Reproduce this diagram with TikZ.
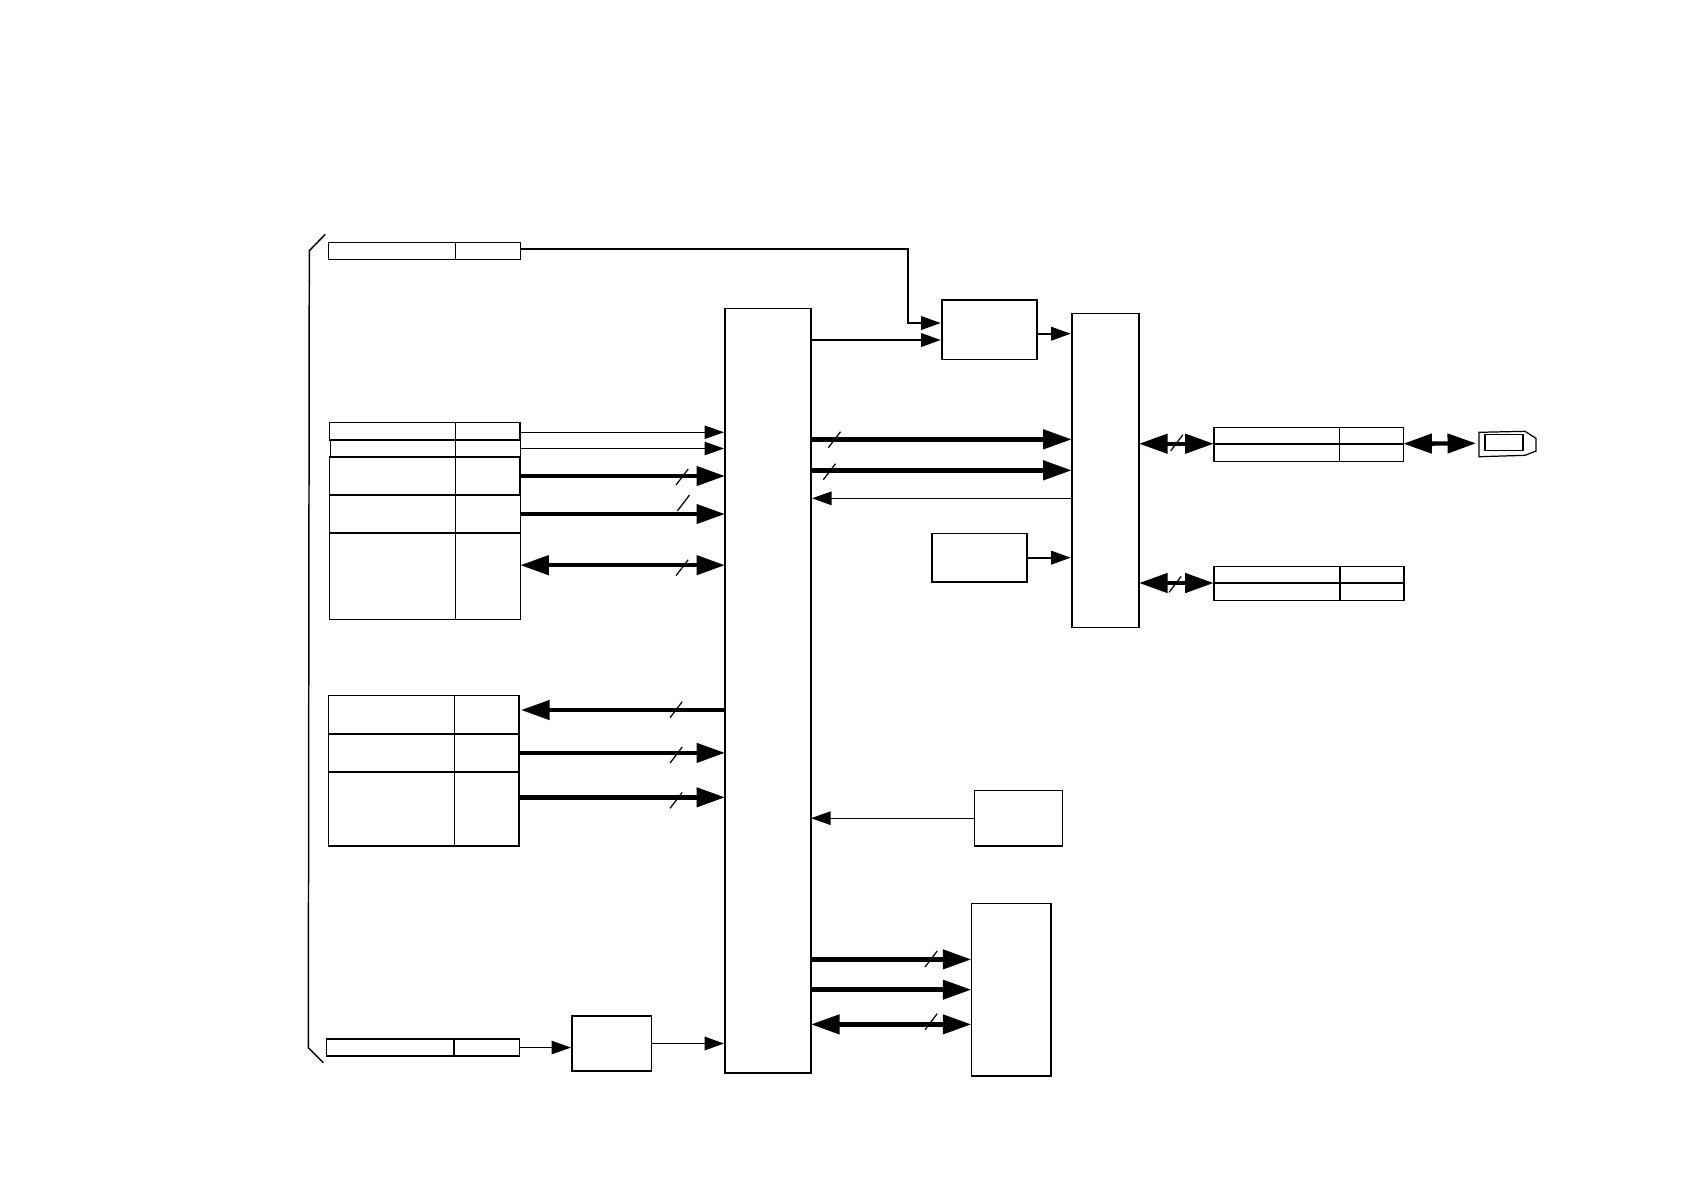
\documentclass[tikz,border=0pt]{standalone}
\usepackage{amsmath,amssymb,amsthm}
\usetikzlibrary{arrows.meta}
\tikzset{
  block/.style={draw, line width=0.45pt, inner sep=0pt, outer sep=0pt, anchor=north west},
  cell/.style={block},
  wire/.style={line width=0.55pt, shorten >=0.1mm, -{Triangle[length=1.95mm,width=1.35mm]}},
  thinwire/.style={wire, line width=0.3pt},
  bus/.style={line width=1.25pt, -{Triangle[length=2.85mm,width=1.9mm]}},
  dualbus/.style={line width=1.25pt, {Triangle[length=2.85mm,width=1.9mm]}-{Triangle[length=2.85mm,width=1.9mm]}},
  tick/.style={line width=0.35pt},
}
\begin{document}
\begin{tikzpicture}[y=-1cm]
\useasboundingbox (0,0) rectangle (16.84,11.91);
\draw[line width=0.42pt] (3.253,2.343) -- (3.093,2.507) -- (3.083,10.477) -- (3.233,10.627);
\foreach \nm/\x/\y/\wa/\wb/\h in {
  rTop/3.287/2.423/1.266/0.65/0.17,
  rA/3.293/4.223/1.26/0.647/0.177,
  rB/3.303/4.40/1.25/0.65/0.17,
  rC/3.293/4.57/1.26/0.647/0.38,
  rD/3.293/4.95/1.26/0.65/0.38,
  rE/3.293/5.33/1.26/0.65/0.863,
  rF/3.287/6.953/1.256/0.644/0.387,
  rG/3.287/7.34/1.256/0.644/0.377,
  rH/3.287/7.717/1.256/0.644/0.74,
  rBot/3.263/10.39/1.277/0.653/0.17,
  rJ/12.137/4.273/1.256/0.64/0.164,
  rK/12.137/4.437/1.256/0.64/0.176,
  rL/12.137/5.663/1.263/0.637/0.167,
  rM/12.137/5.83/1.263/0.637/0.173} {
  \node[cell, minimum width=\wa cm, minimum height=\h cm] (\nm) at (\x,\y) {};
  \node[cell, minimum width=\wb cm, minimum height=\h cm] (\nm r) at (\nm.north east) {};
}
\node[block, minimum width=0.86cm, minimum height=7.644cm] (main) at (7.25,3.083) {};
\node[block, minimum width=0.953cm, minimum height=0.596cm] (gate) at (9.417,2.997) {};
\node[block, minimum width=0.673cm, minimum height=3.14cm] (mux) at (10.717,3.133) {};
\node[block, minimum width=0.953cm, minimum height=0.487cm] (clock) at (9.317,5.333) {};
\node[block, minimum width=0.88cm, minimum height=0.557cm] (reset) at (9.743,7.903) {};
\node[block, minimum width=0.797cm, minimum height=1.727cm] (mem) at (9.713,9.033) {};
\node[block, minimum width=0.793cm, minimum height=0.545cm] (conv) at (5.72,10.162) {};
\coordinate (bend) at (9.083,3.23);
\coordinate (gateIn) at (9.417,3.40);
\coordinate (gateOut) at ([yshift=-0.42mm]gate.east);
\coordinate (rAport) at ([yshift=-0.11mm]rAr.east);
\coordinate (muxA) at (10.717,4.393);
\coordinate (muxB) at (10.717,4.703);
\coordinate (muxC) at (10.717,4.983);
\coordinate (rEport) at ([yshift=1.1mm]rEr.east);
\coordinate (rFport) at (5.21,7.10);
\coordinate (rHport) at ([yshift=1.14mm]rHr.east);
\coordinate (memA) at ([yshift=3.03mm]mem.west);
\coordinate (memC) at ([yshift=-3.47mm]mem.west);
\coordinate (plug) at (14.76,4.433);
\draw[wire] ([yshift=0.18mm]rTopr.east) -| (bend) -- (bend -| gate.west);
\draw[wire] (gateIn -| main.east) -- (gateIn);
\draw[wire] (gateOut) -- (gateOut -| mux.west);
\draw[thinwire] (rAport) -- (rAport -| main.west);
\draw[thinwire] (rBr.east) -- (rBr.east -| main.west);
\draw[bus] (rCr.east) -- (rCr.east -| main.west);
\draw[bus] (rDr.east) -- (rDr.east -| main.west);
\draw[dualbus] (rEport) -- (rEport -| main.west);
\draw[bus] (rFport -| main.west) -- (rFport);
\draw[bus] (rGr.east) -- (rGr.east -| main.west);
\draw[bus] (rHport) -- (rHport -| main.west);
\draw[bus] (muxA -| main.east) -- (muxA);
\draw[bus] (muxB -| main.east) -- (muxB);
\draw[thinwire] (muxC) -- (muxC -| main.east);
\draw[wire] (clock.east) -- (clock.east -| mux.west);
\draw[thinwire, shorten >=0pt] (reset.west) -- (reset.west -| main.east);
\draw[bus] (memA -| main.east) -- (memA);
\draw[bus] (mem.west -| main.east) -- (mem.west);
\draw[dualbus] (memC -| main.east) -- (memC);
\draw[thinwire] (rBotr.east) -- (rBotr.east -| conv.west);
\draw[wire] (conv.east) -- (conv.east -| main.west);
\draw[dualbus] (rJ.south west -| mux.east) -- (rJ.south west);
\draw[dualbus] (rL.south west -| mux.east) -- (rL.south west);
\draw[dualbus] (rJr.south east) -- (plug);
\draw[line width=0.35pt] (14.79,4.323) -- (15.25,4.313) -- (15.36,4.383) -- (15.36,4.51) -- (15.25,4.553) -- (14.79,4.567) -- cycle;
\draw[line width=0.35pt] (14.85,4.347) rectangle (15.23,4.507);
\foreach \x/\y in {6.76/4.85, 6.773/5.11, 6.76/5.757, 6.70/7.177, 6.70/7.63, 6.70/8.083, 8.283/4.477, 8.233/4.797, 9.25/9.67, 9.25/10.297, 11.707/4.507, 11.69/5.923}
  \draw[tick] (\x,\y) -- ++(0.122,-0.16);
\end{tikzpicture}
\end{document}
